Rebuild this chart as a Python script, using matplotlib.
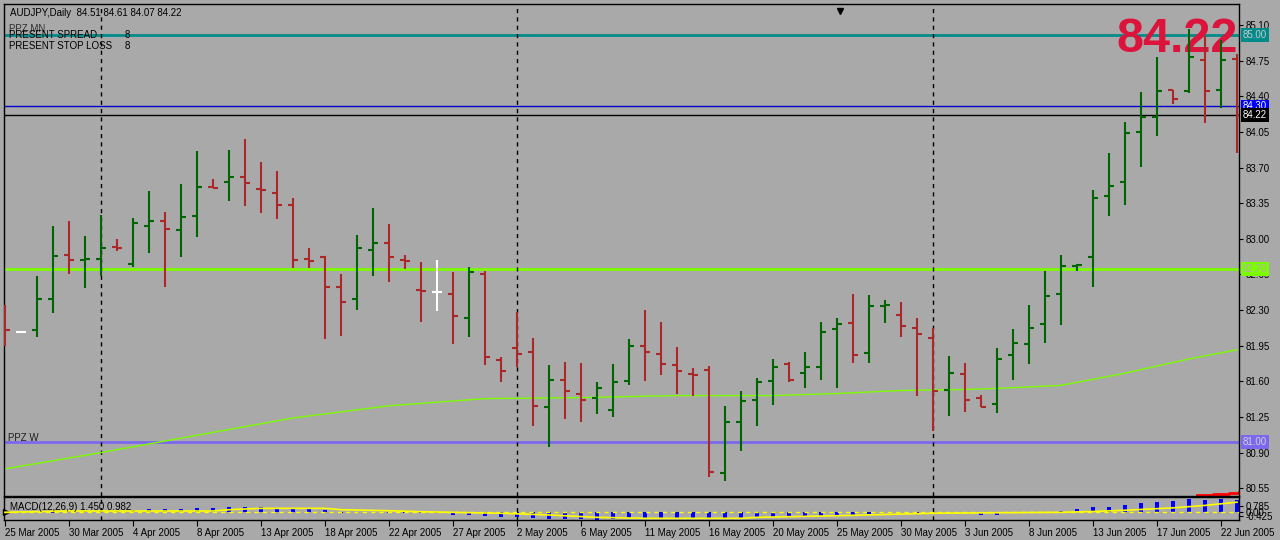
import matplotlib
matplotlib.use("Agg")
import matplotlib.pyplot as plt
import matplotlib.transforms as mtransforms
import numpy as np

plt.rcParams["font.family"] = ["Liberation Sans", "DejaVu Sans"]

# daily bars (AUDJPY)
opens = [82.15, 82.08, 82.10, 82.41, 82.84, 82.79, 82.80, 82.92, 82.75, 83.13,
         83.17, 83.09, 83.22, 83.51, 83.56, 83.61, 83.49, 83.45, 83.33, 82.80,
         82.82, 82.53, 82.41, 82.89, 82.96, 82.79, 82.50, 82.48, 82.46, 82.22,
         82.65, 81.81, 81.93, 81.89, 81.35, 81.61, 81.48, 81.44, 81.32, 81.60,
         81.95, 81.87, 81.76, 81.67, 81.71, 80.70, 81.20, 81.42, 81.60, 81.77,
         81.68, 81.74, 82.11, 82.17, 81.88, 82.34, 82.25, 82.12, 82.03, 81.51,
         81.67, 81.44, 81.38, 81.86, 81.97, 82.16, 82.46, 82.73, 82.82, 83.42,
         83.56, 84.05, 84.20, 84.46, 84.45, 84.76, 84.46, 84.77]
highs = [82.35, 82.08, 82.63, 83.13, 83.17, 83.03, 83.23, 83.00, 83.20, 83.47,
         83.26, 83.54, 83.86, 83.59, 83.87, 83.98, 83.75, 83.67, 83.40, 82.91,
         82.83, 82.65, 83.04, 83.30, 83.15, 82.84, 82.77, 82.79, 82.67, 82.72,
         82.68, 81.84, 82.28, 82.03, 81.76, 81.79, 81.78, 81.59, 81.77, 82.02,
         82.30, 82.18, 81.94, 81.73, 81.75, 81.36, 81.50, 81.63, 81.82, 81.79,
         81.89, 82.18, 82.22, 82.46, 82.45, 82.40, 82.38, 82.22, 82.12, 81.85,
         81.78, 81.47, 81.93, 82.11, 82.35, 82.68, 82.84, 82.75, 83.48, 83.84,
         84.15, 84.44, 84.79, 84.46, 85.06, 84.99, 84.95, 84.82]
lows = [81.95, 82.08, 82.04, 82.27, 82.65, 82.52, 82.63, 82.88, 82.72, 82.86,
        82.53, 82.82, 83.02, 83.50, 83.37, 83.32, 83.25, 83.19, 82.71, 82.71,
        82.02, 82.05, 82.30, 82.63, 82.58, 82.70, 82.18, 82.29, 81.97, 82.04,
        81.76, 81.59, 81.74, 81.16, 80.95, 81.23, 81.20, 81.28, 81.25, 81.56,
        81.60, 81.66, 81.48, 81.46, 80.66, 80.62, 80.92, 81.16, 81.37, 81.59,
        81.53, 81.61, 81.53, 81.78, 81.78, 82.17, 82.04, 81.46, 81.11, 81.26,
        81.30, 81.35, 81.29, 81.61, 81.77, 81.98, 82.15, 82.68, 82.53, 83.22,
        83.33, 83.71, 84.01, 84.32, 84.43, 84.14, 84.28, 83.84]
closes = [82.10, 82.08, 82.41, 82.83, 82.79, 82.80, 82.91, 82.91, 83.16, 83.17,
          83.10, 83.21, 83.51, 83.50, 83.61, 83.55, 83.48, 83.33, 82.79, 82.78,
          82.53, 82.38, 82.91, 82.96, 82.82, 82.78, 82.49, 82.48, 82.24, 82.67,
          81.84, 81.70, 81.87, 81.36, 81.61, 81.50, 81.42, 81.53, 81.59, 81.95,
          81.89, 81.77, 81.70, 81.66, 80.71, 81.20, 81.41, 81.59, 81.74, 81.61,
          81.74, 82.08, 82.16, 81.86, 82.34, 82.35, 82.14, 82.06, 81.50, 81.68,
          81.42, 81.35, 81.82, 81.98, 82.12, 82.44, 82.73, 82.74, 83.40, 83.52,
          84.04, 84.20, 84.45, 84.37, 84.79, 84.45, 84.76, 84.22]

# moving average (lime) sampled at some bars
ma_idx = [0, 6, 12, 18, 24, 30, 36, 42, 48, 52, 56, 60, 62, 66, 70, 74, 77]
ma_val = [80.74, 80.90, 81.07, 81.24, 81.36, 81.43, 81.44, 81.46, 81.46, 81.48,
          81.51, 81.52, 81.53, 81.56, 81.68, 81.82, 81.91]

# short red indicator line at the bottom right
red_idx = [74.5, 75.5, 76.5, 77.1]
red_val = [80.486, 80.496, 80.506, 80.515]

# MACD(12,26,9)
macd_hist = [0.0, -0.05, 0.0, -0.05, 0.10, 0.10, 0.12, 0.15, 0.28, 0.37,
             0.37, 0.37, 0.53, 0.53, 0.69, 0.69, 0.69, 0.37, 0.37, 0.37,
             0.28, -0.05, -0.05, -0.05, -0.12, -0.12, -0.12, -0.12, -0.30, -0.30,
             -0.42, -0.54, -0.54, -0.66, -0.79, -0.79, -0.79, -0.91, -0.79, -0.66,
             -0.66, -0.66, -0.66, -0.66, -0.66, -0.66, -0.66, -0.54, -0.54, -0.54,
             -0.54, -0.42, -0.30, -0.30, -0.15, 0.05, 0.0, -0.10, 0.05, 0.0,
             0.05, -0.30, -0.30, 0.05, 0.05, 0.0, 0.20, 0.40, 0.60, 0.70,
             0.90, 1.10, 1.30, 1.45, 1.60, 1.55, 1.70, 1.55]
sig_idx = [0, 4, 13, 14, 16, 20, 21, 24, 26, 31, 34, 37, 40, 46, 47, 52, 58,
           62, 66, 68, 70, 72, 73, 74, 75, 76, 77]
sig_val = [0.0, 0.16, 0.16, 0.32, 0.49, 0.49, 0.32, 0.20, 0.07, -0.12, -0.33,
           -0.62, -0.74, -0.74, -0.62, -0.42, -0.12, -0.05, 0.0, 0.10, 0.25,
           0.45, 0.55, 0.70, 0.85, 1.05, 1.25]

price_ticks = [85.10, 84.75, 84.40, 84.05, 83.70, 83.35, 83.00, 82.65, 82.30,
               81.95, 81.60, 81.25, 80.90, 80.55]
macd_ticks = [0.785, 0.0, -0.425]
date_labels = ["25 Mar 2005", "30 Mar 2005", "4 Apr 2005", "8 Apr 2005",
               "13 Apr 2005", "18 Apr 2005", "22 Apr 2005", "27 Apr 2005",
               "2 May 2005", "6 May 2005", "11 May 2005", "16 May 2005",
               "20 May 2005", "25 May 2005", "30 May 2005", "3 Jun 2005",
               "8 Jun 2005", "13 Jun 2005", "17 Jun 2005", "22 Jun 2005"]
separator_idx = [6, 32, 58]

# horizontal levels: price, line colour, width, label box colour, label text colour
levels = [
    (85.00, "#008B8B", 2.0, "#008B8B", "#C8C8C8"),
    (84.30, "#0000CC", 1.0, "#0000FF", "white"),
    (84.22, "black", 1.0, "black", "white"),
    (82.70, "#7CFC00", 2.0, "#7CFC00", "#B0B0B0"),
    (81.00, "#7B68EE", 2.0, "#7B68EE", "#D0D0D0"),
]

BG = "#A9A9A9"
UP = "#006400"
DOWN = "#AA2828"

W, H = 1280, 540
fig = plt.figure(figsize=(W / 100, H / 100), dpi=100, facecolor=BG)

left_px, right_px = 4, 1239
ax = fig.add_axes([left_px / W, (H - 496) / H, (right_px - left_px) / W, 492 / H])
ax2 = fig.add_axes([left_px / W, (H - 520) / H, (right_px - left_px) / W, 23 / H])

for a in (ax, ax2):
    a.set_facecolor(BG)
    for s in a.spines.values():
        s.set_color("black")
        s.set_linewidth(1)
    a.set_xlim(-0.0625, 77.125)

x = np.arange(len(opens))
o, h, l, c = map(np.array, (opens, highs, lows, closes))
cols = np.where(c > o, UP, np.where(c < o, DOWN, "white"))

# horizontal levels
for price, lc, lw, bc, tc in levels:
    ax.axhline(price, color=lc, lw=lw, zorder=1)

# moving averages
ax.plot(ma_idx, ma_val, color="#7CFC00", lw=1, zorder=1.5)
ax.plot(red_idx, red_val, color="red", lw=2, drawstyle="steps-post", zorder=1.5)

# separators
for a in (ax, ax2):
    for s in separator_idx:
        a.axvline(s, color="black", lw=1, ls=(0, (3, 3)), zorder=1)

# big current price
ax.text((1238 - left_px) / (right_px - left_px), (496 - 40) / 492, "84.22",
        transform=ax.transAxes, ha="right", va="center", fontsize=35,
        fontweight="bold", color="#DC143C", zorder=2)

# OHLC bars
tick = 0.33
ax.vlines(x, l, h, colors=cols, lw=1.5, zorder=3)
ax.hlines(o, x - tick, x, colors=cols, lw=1.5, zorder=3)
ax.hlines(c, x, x + tick, colors=cols, lw=1.5, zorder=3)

ax.set_ylim(80.4735, 85.3063)
ax.yaxis.tick_right()
ax.set_yticks(price_ticks)
ax.set_yticklabels([f"{v:.2f}" for v in price_ticks])
ax.tick_params(axis="y", length=3, pad=2, labelsize=7, colors="black")
ax.set_xticks([])

blend = mtransforms.blended_transform_factory(ax.transAxes, ax.transData)
for price, lc, lw, bc, tc in levels:
    ax.text(1.0 + 4 / 1235, price, f"{price:.2f}", transform=blend, ha="left",
            va="center", fontsize=7, color=tc, zorder=5, clip_on=False,
            bbox=dict(boxstyle="square,pad=0.2", fc=bc, ec="none"))

# texts
fs = 7
ax.text(6 / 1235, (496 - 13) / 492, "AUDJPY,Daily  84.51 84.61 84.07 84.22",
        transform=ax.transAxes, fontsize=fs, va="center", ha="left")
ax.text(5 / 1235, (496 - 29) / 492, "PPZ MN", transform=ax.transAxes,
        fontsize=fs, va="center", ha="left", color="#303030")
ax.text(5 / 1235, (496 - 34.5) / 492, "PRESENT SPREAD", transform=ax.transAxes,
        fontsize=fs, va="center", ha="left")
ax.text(121 / 1235, (496 - 34.5) / 492, "8", transform=ax.transAxes,
        fontsize=fs, va="center", ha="left")
ax.text(5 / 1235, (496 - 46) / 492, "PRESENT STOP LOSS", transform=ax.transAxes,
        fontsize=fs, va="center", ha="left")
ax.text(121 / 1235, (496 - 46) / 492, "8", transform=ax.transAxes,
        fontsize=fs, va="center", ha="left")
ax.text(4 / 1235, (496 - 438) / 492, "PPZ W", transform=ax.transAxes,
        fontsize=fs, va="center", ha="left", color="#202020")
ax.plot([(840 - left_px) / 1235], [0.985], marker="v", color="black", ms=5,
        transform=ax.transAxes, clip_on=False)

# MACD panel
ax2.set_ylim(-0.95, 1.89)
ax2.bar(x, macd_hist, width=0.2, color="#0000FF", zorder=2)
ax2.axhline(0, color="yellow", lw=1, ls=(0, (3, 3)), zorder=3)
ax2.plot(sig_idx, sig_val, color="yellow", lw=1.2, zorder=3)
ax2.yaxis.tick_right()
ax2.set_yticks(macd_ticks)
ax2.set_yticklabels(["0.785", "0.00", "-0.425"])
ax2.tick_params(axis="y", length=3, pad=2, labelsize=7)
ax2.text(6 / 1235, 0.55, "MACD(12,26,9) 1.450 0.982", transform=ax2.transAxes,
         fontsize=fs, va="center", ha="left")
ax2.plot([0.002], [0.35], marker=">", color="black", ms=4,
         transform=ax2.transAxes, clip_on=False)

ax2.set_xticks(np.arange(0, 4 * len(date_labels), 4))
ax2.set_xticklabels(date_labels, ha="left")
ax2.tick_params(axis="x", length=4, pad=2, labelsize=7)

fig.savefig("out.png", dpi=100, facecolor=BG)
